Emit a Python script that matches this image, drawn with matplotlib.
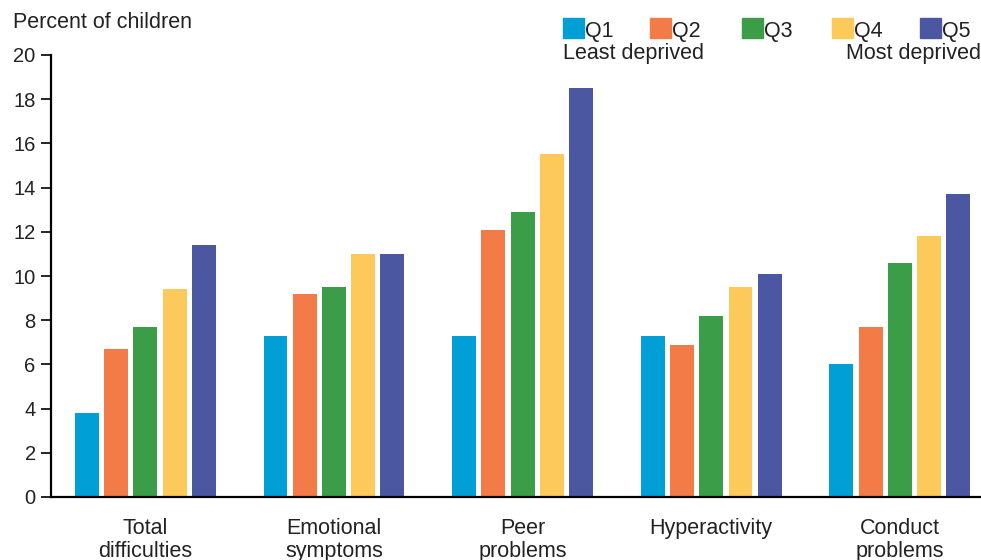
import matplotlib
matplotlib.use("Agg")
import matplotlib.pyplot as plt
import numpy as np
from matplotlib.patches import Rectangle

plt.rcParams['font.family'] = ['Liberation Sans', 'DejaVu Sans']

categories = ["Total\ndifficulties", "Emotional\nsymptoms", "Peer\nproblems", "Hyperactivity", "Conduct\nproblems"]
series_names = ["Q1", "Q2", "Q3", "Q4", "Q5"]
q1 = [3.8, 7.3, 7.3, 7.3, 6.0]
q2 = [6.7, 9.2, 12.1, 6.9, 7.7]
q3 = [7.7, 9.5, 12.9, 8.2, 10.6]
q4 = [9.4, 11.0, 15.5, 9.5, 11.8]
q5 = [11.4, 11.0, 18.5, 10.1, 13.7]
series = [q1, q2, q3, q4, q5]
colors = ["#009FD6", "#F27B48", "#3C9D48", "#FDC95B", "#4B57A0"]
yticks = [0, 2, 4, 6, 8, 10, 12, 14, 16, 18, 20]

W, H = 981, 560
fig = plt.figure(figsize=(W / 100, H / 100), dpi=100)
ax = fig.add_axes([51 / W, 1 - 497 / H, 1 - 51 / W, (497 - 55) / H])

x = np.arange(len(categories))
step = 0.155
width = 0.127
for i, (vals, c) in enumerate(zip(series, colors)):
    ax.bar(x + (i - 2) * step, vals, width=width, color=c, label=series_names[i])

ax.set_xlim(-0.5, 4.43)
ax.set_ylim(0, 20)
ax.set_yticks(yticks)
ax.set_xticks(x)
ax.set_xticklabels(categories, fontsize=15.5, color="#222222", linespacing=1.15)
ax.tick_params(axis='x', length=0, pad=15)
ax.tick_params(axis='y', length=7, width=1.2, pad=4, labelsize=14.5, labelcolor="#222222")
for s in ['top', 'right']:
    ax.spines[s].set_visible(False)
ax.spines['left'].set_linewidth(1.6)
ax.spines['bottom'].set_linewidth(1.6)

fig.text(13 / W, 1 - 23 / H, "Percent of children", fontsize=15.5, color="#222222",
         ha='left', va='center')

# legend
leg_x = [563, 650, 742, 832, 920]
for lx, c, name in zip(leg_x, colors, series_names):
    fig.patches.append(Rectangle((lx / W, 1 - 38 / H), 21 / W, 20 / H,
                                 transform=fig.transFigure, color=c))
    fig.text((lx + 22) / W, 1 - 31 / H, name, fontsize=15.5, color="#222222",
             ha='left', va='center')
fig.text(563 / W, 1 - 53 / H, "Least deprived", fontsize=15.5, color="#222222",
         ha='left', va='center')
fig.text(981 / W, 1 - 53 / H, "Most deprived", fontsize=15.5, color="#222222",
         ha='right', va='center')

fig.savefig("out.png", dpi=100)
